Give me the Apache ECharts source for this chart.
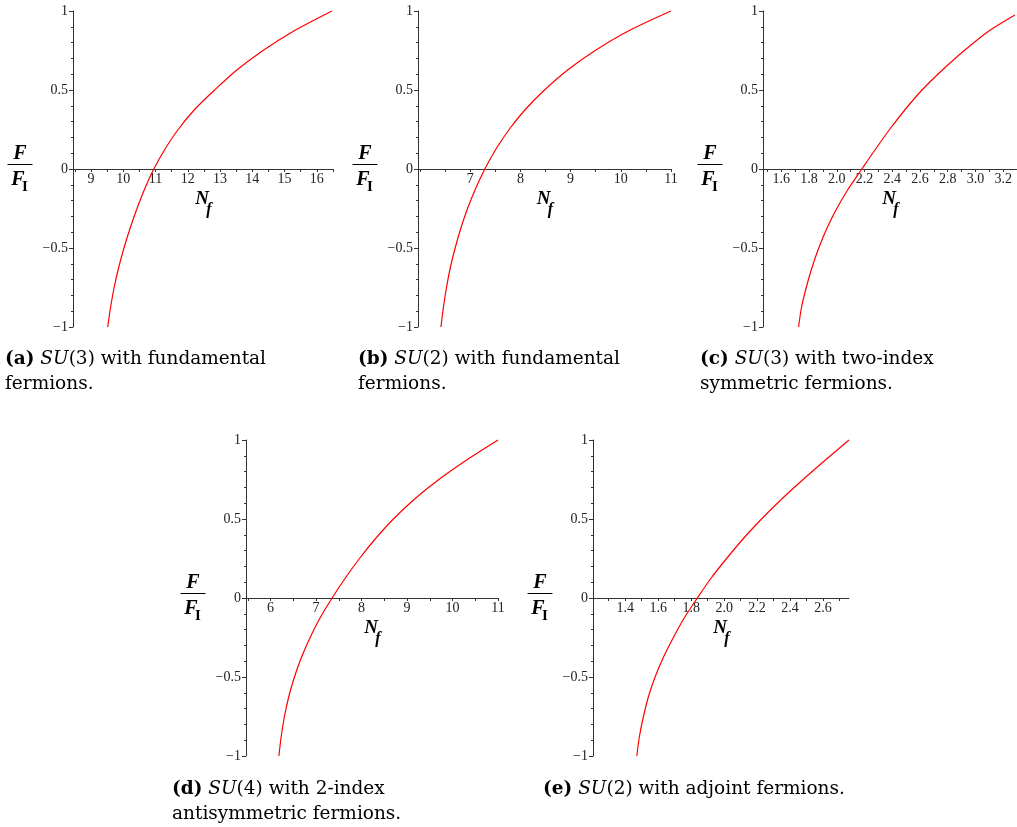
<!DOCTYPE html>
<html><head><meta charset="utf-8">
<script src="https://cdn.jsdelivr.net/npm/echarts@6/dist/echarts.min.js"></script>
<style>html,body{margin:0;padding:0;background:#fff}#c{width:1017px;height:827px}</style>
</head><body><div id="c"></div>
<script>
// ---- data ----
const ratioLevels = [-1, -0.875, -0.75, -0.625, -0.5, -0.375, -0.25, -0.125, 0, 0.125, 0.25, 0.375, 0.5, 0.625, 0.75, 0.875, 1];
const ratioC = [-1, -0.875, -0.75, -0.625, -0.5, -0.375, -0.25, -0.125, 0, 0.125, 0.25, 0.375, 0.5, 0.625, 0.75, 0.875, 0.975];
const nfA = [9.515, 9.605, 9.715, 9.855, 10.02, 10.21, 10.425, 10.665, 10.945, 11.29, 11.70, 12.205, 12.83, 13.51, 14.33, 15.30, 16.47];
const nfB = [6.417, 6.466, 6.528, 6.603, 6.700, 6.813, 6.947, 7.106, 7.291, 7.511, 7.775, 8.093, 8.480, 8.935, 9.490, 10.160, 11.0];
const nfC = [1.7245, 1.746, 1.780, 1.821, 1.870, 1.929, 2.000, 2.084, 2.181, 2.279, 2.381, 2.492, 2.615, 2.760, 2.920, 3.100, 3.285];
const nfD = [6.183, 6.235, 6.305, 6.400, 6.525, 6.680, 6.870, 7.090, 7.354, 7.640, 7.955, 8.305, 8.700, 9.160, 9.700, 10.320, 11.0];
const nfE = [1.4706, 1.4867, 1.5109, 1.5411, 1.5814, 1.6318, 1.6923, 1.7589, 1.8375, 1.9202, 2.0149, 2.1157, 2.2266, 2.3476, 2.4786, 2.6157, 2.7568];

const xLabelsA = [9, 10, 11, 12, 13, 14, 15, 16];
const xLabelsB = [7, 8, 9, 10, 11];
const xLabelsC = [1.6, 1.8, 2.0, 2.2, 2.4, 2.6, 2.8, 3.0, 3.2];
const xLabelsD = [6, 7, 8, 9, 10, 11];
const xLabelsE = [1.4, 1.6, 1.8, 2.0, 2.2, 2.4, 2.6];
const xTicksA = [8.5, 9, 9.5, 10, 10.5, 11, 11.5, 12, 12.5, 13, 13.5, 14, 14.5, 15, 15.5, 16, 16.5];
const xTicksB = [6, 6.5, 7, 7.5, 8, 8.5, 9, 9.5, 10, 10.5, 11];
const xTicksC = [1.5, 1.6, 1.7, 1.8, 1.9, 2.0, 2.1, 2.2, 2.3, 2.4, 2.5, 2.6, 2.7, 2.8, 2.9, 3.0, 3.1, 3.2];
const xTicksD = [5.5, 6, 6.5, 7, 7.5, 8, 8.5, 9, 9.5, 10, 10.5, 11];
const xTicksE = [1.3, 1.4, 1.5, 1.6, 1.7, 1.8, 1.9, 2.0, 2.1, 2.2, 2.3, 2.4, 2.5, 2.6, 2.7];
const xRangeA = [8.44, 16.5];
const xRangeB = [5.96, 11];
const xRangeC = [1.468, 3.3];
const xRangeD = [5.46, 11];
const xRangeE = [1.205, 2.757];
const yRange = [-1, 1];

const captionLabels = ['(a)', '(b)', '(c)', '(d)', '(e)'];
const captionGroups = ['3', '2', '3', '4', '2'];
const captionRest = [
  [' with fundamental', 'fermions.'],
  [' with fundamental', 'fermions.'],
  [' with two-index', 'symmetric fermions.'],
  [' with 2-index', 'antisymmetric fermions.'],
  [' with adjoint fermions.', '']
];

// ---- layout ----
const panels = [
  {left: 73, top: 11, width: 260, height: 316, nf: nfA, ratio: ratioLevels, xr: xRangeA, labels: xLabelsA, ticks: xTicksA, dec: 0, cap: [5, 347]},
  {left: 418, top: 11, width: 253, height: 316, nf: nfB, ratio: ratioLevels, xr: xRangeB, labels: xLabelsB, ticks: xTicksB, dec: 0, cap: [358, 347]},
  {left: 763, top: 11, width: 254, height: 316, nf: nfC, ratio: ratioC, xr: xRangeC, labels: xLabelsC, ticks: xTicksC, dec: 1, cap: [700, 347]},
  {left: 246, top: 440, width: 252, height: 316, nf: nfD, ratio: ratioLevels, xr: xRangeD, labels: xLabelsD, ticks: xTicksD, dec: 0, cap: [172, 777]},
  {left: 593, top: 440, width: 256, height: 316, nf: nfE, ratio: ratioLevels, xr: xRangeE, labels: xLabelsE, ticks: xTicksE, dec: 1, cap: [543, 777]}
];

const axisColor = '#333';
const textColor = '#222';
const tickFont = 'Liberation Serif';
const mathFont = 'Liberation Serif';
const capFont = 'DejaVu Serif';
const capSize = 18.5;

const grids = [], xAxes = [], yAxes = [], series = [], graphics = [];
panels.forEach((p, i) => {
  grids.push({left: p.left, top: p.top, width: p.width, height: p.height, containLabel: false, outerBoundsMode: 'none'});
  xAxes.push({
    type: 'value', gridIndex: i, min: p.xr[0], max: p.xr[1], position: 'bottom',
    offset: -p.height / 2,
    axisLine: {onZero: false, lineStyle: {color: axisColor, width: 1}},
    axisTick: {show: true, inside: false, length: 3, customValues: p.ticks, lineStyle: {color: axisColor}},
    axisLabel: {customValues: p.labels, margin: 3, color: textColor, fontFamily: tickFont, fontSize: 14,
      formatter: v => (+v).toFixed(p.dec)},
    splitLine: {show: false}
  });
  yAxes.push({
    type: 'value', gridIndex: i, min: yRange[0], max: yRange[1], interval: 0.5,
    axisLine: {show: true, onZero: false, lineStyle: {color: axisColor, width: 1}},
    axisTick: {show: true, length: 4, lineStyle: {color: axisColor}},
    minorTick: {show: true, splitNumber: 5, length: 2, lineStyle: {color: axisColor}},
    axisLabel: {margin: 5, color: textColor, fontFamily: tickFont, fontSize: 14,
      formatter: v => String(v).replace('-', '\u2212')},
    splitLine: {show: false}
  });
  series.push({
    type: 'line', xAxisIndex: i, yAxisIndex: i,
    data: p.nf.map((x, k) => [x, p.ratio[k]]),
    showSymbol: false, smooth: 0.3, clip: false,
    lineStyle: {color: '#ff0000', width: 1.2}
  });
  const midY = p.top + p.height / 2;
  const fx = p.left - 53;
  // F / F_I fraction
  graphics.push({type: 'text', x: fx, y: midY - 15, style: {text: 'F', font: 'italic bold 20px "' + mathFont + '"', fill: '#000', align: 'center', verticalAlign: 'middle'}});
  graphics.push({type: 'line', shape: {x1: fx - 12.5, y1: midY - 4.5, x2: fx + 12.5, y2: midY - 4.5}, style: {stroke: '#000', lineWidth: 1}});
  graphics.push({type: 'text', x: fx - 2, y: midY + 11, style: {text: 'F', font: 'italic bold 20px "' + mathFont + '"', fill: '#000', align: 'center', verticalAlign: 'middle'}});
  graphics.push({type: 'text', x: fx + 5, y: midY + 18, style: {text: 'I', font: 'bold 15px "' + mathFont + '"', fill: '#000', align: 'center', verticalAlign: 'middle'}});
  // N_f
  const cx = p.left + p.width / 2;
  graphics.push({type: 'text', x: cx - 1, y: midY + 30, style: {text: 'N', font: 'italic bold 19px "' + mathFont + '"', fill: '#000', align: 'center', verticalAlign: 'middle'}});
  graphics.push({type: 'text', x: cx + 6, y: midY + 41, style: {text: 'f', font: 'italic bold 16px "' + mathFont + '"', fill: '#000', align: 'center', verticalAlign: 'middle'}});
  // caption
  const rest = captionRest[i];
  graphics.push({type: 'text', x: p.cap[0], y: p.cap[1], style: {
    text: '{b|' + captionLabels[i] + '} {i|SU}(' + captionGroups[i] + ')' + rest[0] + (rest[1] ? '\n' + rest[1] : ''),
    font: capSize + 'px "' + capFont + '"', fill: '#000', lineHeight: 25, align: 'left', verticalAlign: 'top',
    rich: {
      b: {fontFamily: capFont, fontWeight: 'bold', fontSize: capSize, lineHeight: 25, fill: '#000'},
      i: {fontFamily: capFont, fontStyle: 'italic', fontSize: capSize, lineHeight: 25, fill: '#000'}
    }
  }});
});

const chart = echarts.init(document.getElementById('c'), null, {renderer: 'canvas'});
chart.setOption({
  animation: false,
  backgroundColor: '#fff',
  grid: grids, xAxis: xAxes, yAxis: yAxes, series: series,
  graphic: graphics
});
</script></body></html>
